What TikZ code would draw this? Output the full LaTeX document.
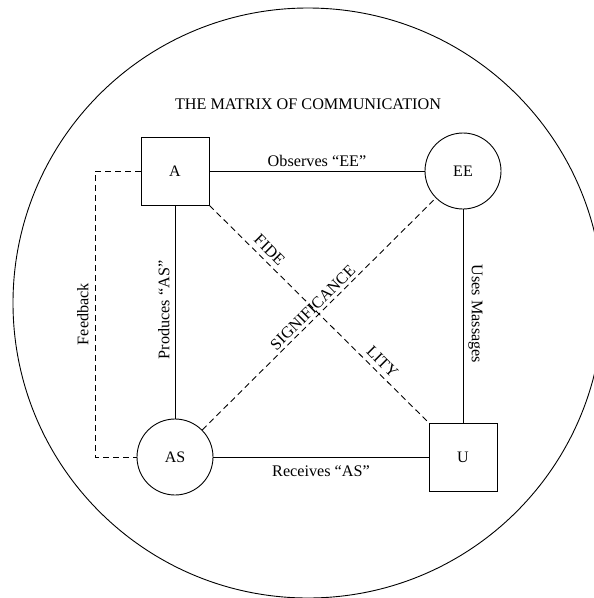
\documentclass[tikz,border=0pt]{standalone}
\usepackage{fontspec}
\setmainfont{Liberation Serif}
\begin{document}
\begin{tikzpicture}[x=1pt,y=-1pt,line width=0.9pt,
  box/.style={draw,rectangle,minimum size=68pt,inner sep=0pt,font=\fontsize{16}{16}\selectfont},
  round/.style={draw,circle,minimum size=76pt,inner sep=0pt,font=\fontsize{16}{16}\selectfont},
  lab/.style={font=\fontsize{16.2}{17}\selectfont,inner sep=1pt},
  dashline/.style={dash pattern=on 6pt off 4pt}]
\useasboundingbox (0,0) rectangle (594,598);
% outer frame
\draw (308,303) circle (295);
% title
\node[lab] (title) at (308,104) {THE MATRIX OF COMMUNICATION};
% the four corners
\node[box]   (A)  at (175,171) {A};
\node[round] (EE) at (463,171) {EE};
\node[round] (AS) at (175,457) {AS};
\node[box]   (U)  at (463,457) {U};
% sides of the matrix
\draw (A) -- node[lab,above=3pt] {Observes “EE”} (EE);
\draw (AS) -- node[lab,below=7pt] {Receives “AS”} (U);
\draw (A) -- node[lab,rotate=90,above=4pt,pos=0.49] {Produces “AS”} (AS);
\draw (EE) -- node[lab,rotate=-90,above=4pt,pos=0.49] {Uses Massages} (U);
% diagonals
\draw[dashline] (A.south east) -- node[lab,sloped,above=4pt,pos=0.24] {FIDE}
                                  node[lab,sloped,above=4pt,pos=0.755] {LITY} (U.north west);
\draw[dashline] (AS) -- node[lab,sloped,above=2pt,pos=0.5] {SIGNIFICANCE} (EE);
% feedback loop
\coordinate (fbtop) at (95,171);
\coordinate (fbbot) at (95,457);
\draw[dashline] (A.west) -- (fbtop) -- node[lab,rotate=90,above=5pt] {Feedback} (fbbot) -- (AS.west);
\end{tikzpicture}
\end{document}
